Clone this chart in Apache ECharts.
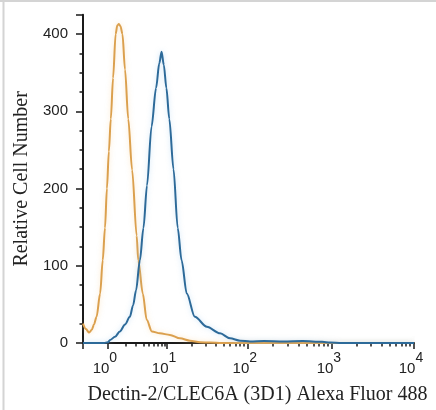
<!DOCTYPE html>
<html>
<head>
<meta charset="utf-8">
<script src="https://cdn.jsdelivr.net/npm/echarts@6/dist/echarts.min.js"></script>
<style>
html,body{margin:0;padding:0;background:#fff;}
#chart{width:436px;height:410px;}
</style>
</head>
<body>
<div id="chart"></div>
<script>
// x positions are display channels (0..1024) of the fluorescence axis
var decadeChannels = [77, 260, 510, 770, 1024];
var decadeExponents = ['0', '1', '2', '3', '4'];
var yTicks = [0, 100, 200, 300, 400];

var orangeChannel = [0, 9, 19, 27, 34, 42, 53, 61, 68, 74, 80, 86, 93, 101, 106, 111, 116, 122, 130, 140, 152, 166, 171, 185, 197, 213, 238, 269, 300, 331, 362, 393, 430, 520, 700, 1024];
var orangeCount   = [25, 18, 13.5, 17, 24, 34, 64, 107, 149, 200, 248, 290, 343, 400, 411, 413, 410, 400, 354, 290, 224, 139, 107, 64, 30, 15, 12.5, 10.5, 6, 3, 1, 0.5, 0, 0, 0, 0];

var blueChannel = [0, 65, 77, 84, 99, 114, 130, 145, 155, 164, 176, 187, 198, 212, 226, 236, 243, 250, 258, 267, 280, 293, 305, 321, 346, 383, 424, 455, 486, 517, 560, 620, 680, 740, 764, 800, 1024];
var blueCount   = [0, 0, 1, 4, 8, 15, 24, 34, 49, 68, 107, 149, 204, 280, 330, 362, 377, 360, 330, 290, 225, 149, 107, 64, 34, 21, 12.5, 6, 3, 2, 2.5, 2, 2.5, 1.5, 0.5, 0, 0];

function zip(a, b) { return a.map(function (v, i) { return [v, b[i]]; }); }

var majorTicks = [0].concat(decadeChannels);
var minorTicks = [];
for (var k = 0; k < decadeChannels.length - 1; k++) {
  for (var m = 2; m <= 9; m++) {
    minorTicks.push(decadeChannels[k] + Math.log10(m) * (decadeChannels[k + 1] - decadeChannels[k]));
  }
}

var chart = echarts.init(document.getElementById('chart'));
chart.setOption({
  backgroundColor: '#fff',
  animation: false,
  grid: { left: 83, right: 22, top: 14.7, bottom: 63.3, containLabel: false },
  xAxis: [{
    type: 'value', min: 0, max: 1024, position: 'bottom',
    splitLine: { show: false },
    axisLine: { onZero: false, lineStyle: { color: '#1a1a1a', width: 2 } },
    axisTick: { customValues: majorTicks, length: 6, lineStyle: { color: '#1a1a1a', width: 1.5 } },
    axisLabel: {
      customValues: decadeChannels,
      margin: 8,
      padding: [0, 6, 0, 0],
      formatter: function (v) {
        var idx = decadeChannels.indexOf(v);
        if (idx < 0) return '';
        return '{b|10}{s|' + decadeExponents[idx] + '}';
      },
      rich: {
        b: { fontSize: 15, fontFamily: 'Liberation Sans', color: '#222', verticalAlign: 'bottom', lineHeight: 25 },
        s: { fontSize: 14, fontFamily: 'Liberation Sans', color: '#222', verticalAlign: 'top', lineHeight: 25 }
      }
    },
    name: 'Dectin-2/CLEC6A (3D1) Alexa Fluor 488',
    nameLocation: 'middle',
    nameGap: 42,
    nameTextStyle: { fontFamily: 'Liberation Serif', fontSize: 20, color: '#222', padding: [0, 0, 0, 18] }
  }, {
    type: 'value', min: 0, max: 1024, position: 'bottom',
    splitLine: { show: false },
    axisLine: { show: false, onZero: false },
    axisTick: { customValues: minorTicks, length: 3.5, lineStyle: { color: '#1a1a1a', width: 1.5 } },
    axisLabel: { show: false }
  }],
  yAxis: {
    type: 'value', min: 0, max: 425, interval: 100,
    splitLine: { show: false },
    axisLine: { show: true, lineStyle: { color: '#1a1a1a', width: 2 } },
    axisTick: { show: true, length: 7, lineStyle: { color: '#1a1a1a', width: 1.5 } },
    minorTick: { show: true, splitNumber: 4, length: 3.5, lineStyle: { color: '#1a1a1a', width: 1.5 } },
    axisLabel: {
      customValues: yTicks,
      margin: 15, fontSize: 15, fontFamily: 'Liberation Sans', color: '#222'
    },
    name: 'Relative Cell Number',
    nameLocation: 'middle',
    nameGap: 47,
    nameTextStyle: { fontFamily: 'Liberation Serif', fontSize: 20, color: '#222' }
  },
  series: [{
    type: 'line', name: 'control', data: zip(orangeChannel, orangeCount),
    showSymbol: false, smooth: 0.3, smoothMonotone: 'x',
    lineStyle: { color: '#DBA04E', width: 2, shadowColor: 'rgba(250,205,140,0.5)', shadowBlur: 5 }
  }, {
    type: 'line', name: 'Dectin-2', data: zip(blueChannel, blueCount),
    showSymbol: false, smooth: 0.3, smoothMonotone: 'x',
    lineStyle: { color: '#2D6A99', width: 2, shadowColor: 'rgba(150,200,240,0.5)', shadowBlur: 5 }
  }],
  graphic: [
    { type: 'line', shape: { x1: 0, y1: 1, x2: 436, y2: 1 }, style: { stroke: '#d4d4d4', lineWidth: 2 }, silent: true },
    { type: 'line', shape: { x1: 3.5, y1: 0, x2: 3.5, y2: 410 }, style: { stroke: '#d4d4d4', lineWidth: 2 }, silent: true }
  ]
});
</script>
</body>
</html>
